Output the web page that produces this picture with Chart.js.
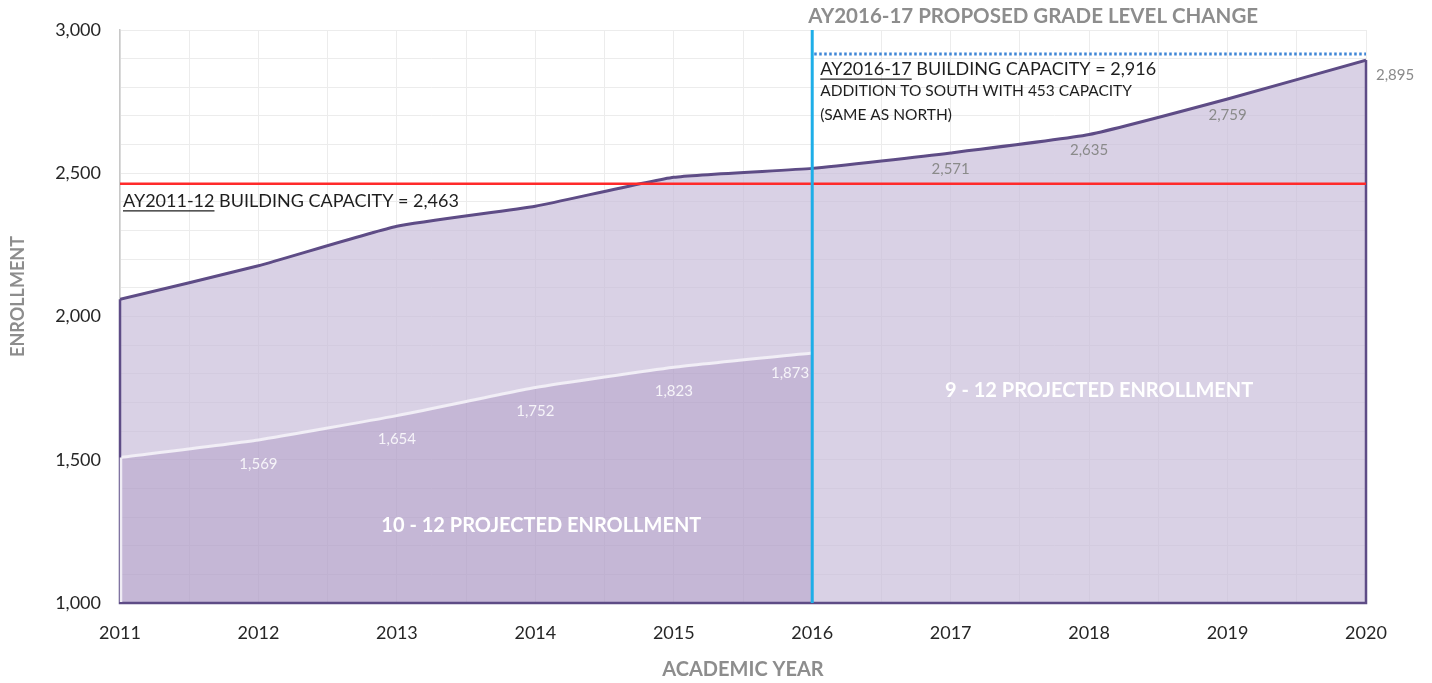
<!DOCTYPE html>
<html>
<head>
<meta charset="utf-8">
<script src="https://cdn.jsdelivr.net/npm/chart.js@4.4.1/dist/chart.umd.min.js"></script>
<style>
  html, body { margin: 0; padding: 0; background: #fff; }
  #wrap { width: 1432px; height: 683px; }
</style>
</head>
<body>
<div id="wrap"><canvas id="enrollChart"></canvas></div>
<script>
// data
const years = [2011, 2012, 2013, 2014, 2015, 2016, 2017, 2018, 2019, 2020];
const enroll9to12 = [2060, 2177, 2315, 2385, 2486, 2517, 2571, 2635, 2759, 2895];
const enroll10to12 = [1508, 1569, 1654, 1752, 1823, 1873];
const capacityOld = 2463;
const capacityNew = 2916;
const changeYear = 2016;
const yTicks = [1000, 1500, 2000, 2500, 3000];

const labelFont = "Lato, 'Open Sans', sans-serif";

function fmt(v) {
    return v.toLocaleString('en-US');
}

// annotations, outlines and value labels
const extrasPlugin = {
    id: 'extras',
    afterDatasetsDraw: function (chart) {
        const ctx = chart.ctx;
        const xs = chart.scales.x;
        const ys = chart.scales.y;
        const x0 = xs.getPixelForValue(years[0]);
        const xEnd = xs.getPixelForValue(years[years.length - 1]);
        const xChange = xs.getPixelForValue(changeYear);
        const yBase = ys.getPixelForValue(ys.min);

        ctx.save();
        // outline of the 9-12 area
        ctx.strokeStyle = '#5e4c86';
        ctx.lineWidth = 2.5;
        ctx.beginPath();
        ctx.moveTo(x0, ys.getPixelForValue(enroll9to12[0]));
        ctx.lineTo(x0, yBase);
        ctx.lineTo(xEnd, yBase);
        ctx.lineTo(xEnd, ys.getPixelForValue(enroll9to12[enroll9to12.length - 1]));
        ctx.stroke();

        // left edge of the 10-12 area
        ctx.strokeStyle = '#efecf4';
        ctx.beginPath();
        ctx.moveTo(x0 + 1, ys.getPixelForValue(enroll10to12[0]));
        ctx.lineTo(x0 + 1, yBase - 1);
        ctx.stroke();

        // old capacity line
        const yOld = ys.getPixelForValue(capacityOld);
        ctx.strokeStyle = '#ff2a2a';
        ctx.lineWidth = 2.5;
        ctx.beginPath();
        ctx.moveTo(x0, yOld);
        ctx.lineTo(xEnd, yOld);
        ctx.stroke();

        // new capacity (dotted)
        const yNew = ys.getPixelForValue(capacityNew);
        ctx.strokeStyle = '#3f86d6';
        ctx.lineWidth = 3;
        ctx.setLineDash([2.5, 2.5]);
        ctx.beginPath();
        ctx.moveTo(xChange + 2, yNew);
        ctx.lineTo(xEnd, yNew);
        ctx.stroke();
        ctx.setLineDash([]);

        // grade level change marker
        ctx.strokeStyle = '#1eaee8';
        ctx.lineWidth = 3;
        ctx.beginPath();
        ctx.moveTo(xChange, ys.getPixelForValue(ys.max));
        ctx.lineTo(xChange, yBase);
        ctx.stroke();

        // value labels, 9-12 projection
        ctx.font = '15px ' + labelFont;
        ctx.fillStyle = '#8a8a8a';
        ctx.textBaseline = 'middle';
        const upperMeta = chart.getDatasetMeta(0);
        for (let i = 6; i < enroll9to12.length; i++) {
            const pt = upperMeta.data[i];
            if (i === enroll9to12.length - 1) {
                ctx.textAlign = 'left';
                ctx.fillText(fmt(enroll9to12[i]), pt.x + 10, pt.y + 15);
            } else {
                ctx.textAlign = 'center';
                ctx.fillText(fmt(enroll9to12[i]), pt.x, pt.y + 16);
            }
        }

        // value labels, 10-12 projection
        ctx.fillStyle = '#f6f4f9';
        const lowerMeta = chart.getDatasetMeta(1);
        for (let i = 1; i < enroll10to12.length; i++) {
            const pt = lowerMeta.data[i];
            if (i === enroll10to12.length - 1) {
                ctx.textAlign = 'right';
                ctx.fillText(fmt(enroll10to12[i]), pt.x - 3, pt.y + 20);
            } else {
                ctx.textAlign = 'center';
                ctx.fillText(fmt(enroll10to12[i]), pt.x, pt.y + 24);
            }
        }

        // area captions
        ctx.font = 'bold 20px ' + labelFont;
        ctx.fillStyle = '#ffffff';
        ctx.textAlign = 'center';
        ctx.fillText('10 - 12 PROJECTED ENROLLMENT', xs.getPixelForValue(2014) + 6, ys.getPixelForValue(1270), 324);
        ctx.fillText('9 - 12 PROJECTED ENROLLMENT', xs.getPixelForValue(2018) + 10, ys.getPixelForValue(1740), 312);

        // capacity notes
        ctx.textAlign = 'left';
        ctx.fillStyle = '#1e1e1e';
        ctx.font = '18px ' + labelFont;
        drawUnderlined(ctx, 'AY2011-12', ' BUILDING CAPACITY = ' + fmt(capacityOld), x0 + 3, yOld + 17, 336);
        drawUnderlined(ctx, 'AY2016-17', ' BUILDING CAPACITY = ' + fmt(capacityNew), xChange + 8, yNew + 15, 341);
        ctx.font = '15.5px ' + labelFont;
        ctx.fillText('ADDITION TO SOUTH WITH 453 CAPACITY', xChange + 8, yNew + 37, 313);
        ctx.fillText('(SAME AS NORTH)', xChange + 8, yNew + 61, 137);

        ctx.font = 'bold 20.5px ' + labelFont;
        ctx.fillStyle = '#8d8d8d';
        ctx.fillText('AY2016-17 PROPOSED GRADE LEVEL CHANGE', xChange - 4, 16, 452);

        // y axis title, sits a little below the axis middle
        ctx.font = 'bold 18px ' + labelFont;
        ctx.translate(18, ys.getPixelForValue(2070));
        ctx.rotate(-Math.PI / 2);
        ctx.textAlign = 'center';
        ctx.fillText('ENROLLMENT', 0, 0);
        ctx.restore();
    }
};

// text with its first part underlined, squeezed to fit width w
function drawUnderlined(ctx, head, rest, x, y, w) {
    const full = ctx.measureText(head + rest).width;
    const k = Math.min(1, w / full);
    const hw = ctx.measureText(head).width * k;
    ctx.fillText(head + rest, x, y, w);
    ctx.save();
    ctx.strokeStyle = ctx.fillStyle;
    ctx.lineWidth = 1.2;
    ctx.beginPath();
    ctx.moveTo(x, y + 10);
    ctx.lineTo(x + hw, y + 10);
    ctx.stroke();
    ctx.restore();
}

const ctx = document.getElementById('enrollChart');
ctx.chart = new Chart(ctx.getContext('2d'), {
    type: 'line',
    data: {
        datasets: [
            {
                label: '9 - 12',
                data: years.map((y, i) => ({ x: y, y: enroll9to12[i] })),
                borderColor: '#5e4c86',
                borderWidth: 3,
                backgroundColor: 'rgba(201, 189, 218, 0.7)',
                fill: 'start',
                pointRadius: 0,
                tension: 0.15,
                order: 2,
            },
            {
                label: '10 - 12',
                data: enroll10to12.map((v, i) => ({ x: years[i], y: v })),
                borderColor: '#f1eef6',
                borderWidth: 3,
                backgroundColor: 'rgba(140, 110, 170, 0.26)',
                fill: 'start',
                pointRadius: 0,
                tension: 0.15,
                order: 1,
            },
        ],
    },
    options: {
        responsive: true,
        maintainAspectRatio: false,
        animation: false,
        layout: { padding: { left: 0, right: 66, top: 30, bottom: 0 } },
        plugins: {
            legend: { display: false },
            tooltip: { enabled: false },
        },
        scales: {
            x: {
                type: 'linear',
                min: years[0],
                max: years[years.length - 1],
                afterBuildTicks: function (scale) {
                    const t = [];
                    for (let v = years[0]; v <= years[years.length - 1]; v += 0.5) t.push({ value: v });
                    scale.ticks = t;
                },
                afterFit: function (scale) { scale.height = 80; },
                grid: { color: '#ececec', drawTicks: false },
                border: { display: false },
                ticks: {
                    autoSkip: false,
                    maxRotation: 0,
                    padding: 19,
                    color: '#262626',
                    font: { family: labelFont, size: 18 },
                    callback: function (v) { return Number.isInteger(v) ? String(v) : ''; },
                },
                title: {
                    display: true,
                    text: 'ACADEMIC YEAR',
                    color: '#8d8d8d',
                    font: { family: labelFont, size: 20, weight: 'bold' },
                    padding: { top: 0, bottom: 1 },
                },
            },
            y: {
                min: yTicks[0],
                max: yTicks[yTicks.length - 1],
                afterFit: function (scale) { scale.width = 120; },
                grid: { color: '#ececec', drawTicks: false },
                border: { color: '#c8c8c8', width: 1.5 },
                ticks: {
                    stepSize: 100,
                    autoSkip: false,
                    padding: 19,
                    color: '#262626',
                    font: { family: labelFont, size: 18 },
                    callback: function (v) { return yTicks.includes(v) ? fmt(v) : ''; },
                },
            },
        },
    },
    plugins: [extrasPlugin],
});
</script>
</body>
</html>
